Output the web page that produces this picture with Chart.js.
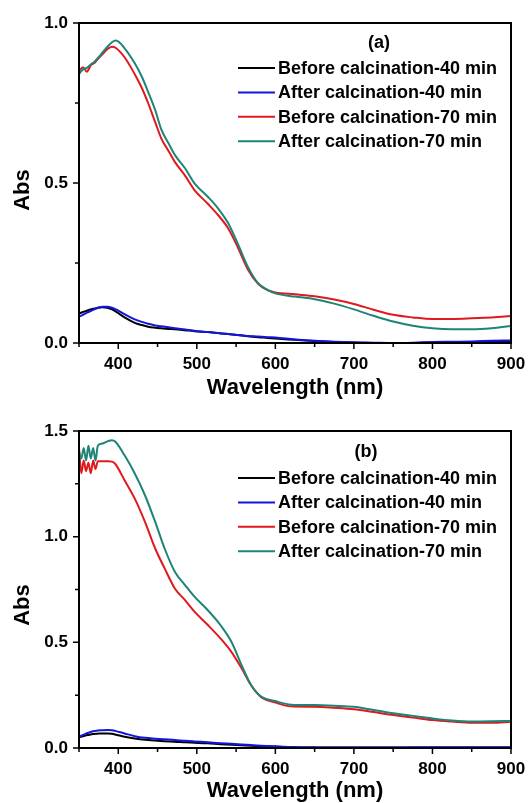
<!DOCTYPE html>
<html>
<head>
<meta charset="utf-8">
<script src="https://cdn.jsdelivr.net/npm/chart.js@4.4.0/dist/chart.umd.min.js"></script>
<style>
  html, body { margin: 0; padding: 0; background: #fff; }
  #wrap { position: relative; width: 531px; height: 803px; overflow: hidden; }
  #chartA { position: absolute; left: 0; top: 0; }
  #chartB { position: absolute; left: 0; top: 400px; }
</style>
</head>
<body>
<div id="wrap">
  <canvas id="chartA" width="531" height="400"></canvas>
  <canvas id="chartB" width="531" height="403"></canvas>
</div>
<script>
// series names / colours shared by both panels
const seriesLabels = ['Before calcination-40 min', 'After calcination-40 min', 'Before calcination-70 min', 'After calcination-70 min'];
const seriesColors = ['#000000', '#1414dc', '#e0191f', '#1d8577'];

// panel (a) - wavelengths (nm) and absorbance
const wlA = [350, 355, 360, 365, 370, 375, 380, 386, 392, 397, 408, 421, 430, 438, 447, 455, 464, 472, 485, 497,
             514, 527, 540, 552, 565, 578, 590, 600, 625, 650, 675, 700, 725, 750, 775, 800, 825, 850, 875, 900];
const before40A = [0.092, 0.097, 0.101, 0.105, 0.108, 0.111, 0.112, 0.110, 0.105, 0.098, 0.080, 0.063, 0.056, 0.051, 0.048, 0.046, 0.044, 0.043, 0.040, 0.037,
                   0.034, 0.031, 0.028, 0.025, 0.021, 0.018, 0.016, 0.014, 0.010, 0.006, 0.003, 0.001, 0.000, 0.000, 0.000, 0.001, 0.002, 0.003, 0.004, 0.005];
const after40A = [0.082, 0.088, 0.095, 0.100, 0.106, 0.110, 0.113, 0.113, 0.110, 0.105, 0.090, 0.074, 0.066, 0.060, 0.055, 0.052, 0.049, 0.046, 0.042, 0.038,
                  0.034, 0.031, 0.028, 0.025, 0.022, 0.020, 0.018, 0.017, 0.011, 0.007, 0.004, 0.002, 0.001, 0.000, 0.001, 0.003, 0.004, 0.005, 0.007, 0.008];
const before70A = [0.850, 0.862, 0.848, 0.868, 0.876, 0.890, 0.903, 0.918, 0.926, 0.922, 0.893, 0.840, 0.797, 0.750, 0.690, 0.638, 0.600, 0.566, 0.523, 0.478,
                   0.435, 0.400, 0.358, 0.300, 0.230, 0.185, 0.165, 0.158, 0.152, 0.146, 0.136, 0.122, 0.104, 0.088, 0.080, 0.075, 0.075, 0.077, 0.080, 0.084];
const after70A = [0.840, 0.855, 0.860, 0.870, 0.880, 0.893, 0.908, 0.925, 0.940, 0.945, 0.921, 0.874, 0.832, 0.785, 0.728, 0.666, 0.624, 0.588, 0.546, 0.499,
                  0.457, 0.421, 0.374, 0.311, 0.238, 0.187, 0.166, 0.155, 0.145, 0.137, 0.123, 0.105, 0.085, 0.067, 0.054, 0.046, 0.043, 0.043, 0.046, 0.053];

// panel (b)
const wlB = [350, 353, 356, 359, 362, 365, 368, 371, 374, 379, 387, 392, 396, 408, 421, 434, 447, 459, 472, 485,
             497, 514, 530, 544, 557, 569, 582, 600, 620, 650, 675, 700, 725, 750, 775, 800, 825, 850, 875, 900];
const before40B = [0.050, 0.054, 0.057, 0.060, 0.062, 0.064, 0.066, 0.067, 0.068, 0.069, 0.069, 0.067, 0.064, 0.053, 0.045, 0.039, 0.035, 0.032, 0.030, 0.027,
                   0.025, 0.022, 0.018, 0.015, 0.013, 0.011, 0.009, 0.006, 0.004, 0.002, 0.002, 0.002, 0.002, 0.002, 0.002, 0.002, 0.002, 0.002, 0.002, 0.002];
const after40B = [0.053, 0.058, 0.063, 0.068, 0.072, 0.076, 0.079, 0.081, 0.083, 0.084, 0.085, 0.084, 0.081, 0.069, 0.056, 0.048, 0.044, 0.041, 0.038, 0.034,
                  0.031, 0.027, 0.023, 0.020, 0.017, 0.014, 0.011, 0.008, 0.005, 0.003, 0.002, 0.002, 0.002, 0.002, 0.003, 0.003, 0.003, 0.003, 0.003, 0.003];
const before70B = [1.420, 1.300, 1.360, 1.310, 1.350, 1.300, 1.360, 1.320, 1.357, 1.357, 1.357, 1.355, 1.345, 1.267, 1.180, 1.070, 0.944, 0.850, 0.755, 0.700,
                   0.645, 0.582, 0.519, 0.455, 0.377, 0.298, 0.240, 0.215, 0.197, 0.195, 0.190, 0.183, 0.170, 0.156, 0.144, 0.132, 0.125, 0.120, 0.120, 0.124];
const after70B = [1.400, 1.370, 1.420, 1.360, 1.430, 1.370, 1.420, 1.360, 1.430, 1.440, 1.452, 1.456, 1.450, 1.385, 1.299, 1.196, 1.070, 0.944, 0.834, 0.771,
                  0.716, 0.652, 0.582, 0.503, 0.392, 0.298, 0.243, 0.222, 0.205, 0.203, 0.200, 0.195, 0.180, 0.164, 0.152, 0.140, 0.130, 0.125, 0.126, 0.128];

const xTickStep = 50;     // labelled every 100 nm
const FONT = "'Liberation Sans', Arial, sans-serif";

function makeSets(wl, series) {
  // draw order: teal on top, then red, blue, black
  const order = [3, 2, 1, 0];
  return series.map((vals, i) => ({
    label: seriesLabels[i],
    data: vals.map((v, j) => ({ x: wl[j], y: v })),
    borderColor: seriesColors[i],
    backgroundColor: seriesColors[i],
    borderWidth: 2,
    pointRadius: 0,
    cubicInterpolationMode: 'monotone',
    order: order[i]
  }));
}

// frame box + outward major/minor tick marks
const framePlugin = {
  id: 'frame',
  afterDraw(chart) {
    const { ctx, chartArea: a, scales } = chart;
    ctx.save();
    ctx.strokeStyle = '#000';
    ctx.lineWidth = 2;
    ctx.strokeRect(a.left, a.top, a.right - a.left, a.bottom - a.top);
    ctx.lineWidth = 1.5;
    ctx.beginPath();
    scales.x.ticks.forEach((t) => {
      const px = scales.x.getPixelForValue(t.value);
      const len = t.label !== '' ? 6 : 4;
      ctx.moveTo(px, a.bottom);
      ctx.lineTo(px, a.bottom + len);
    });
    scales.y.ticks.forEach((t) => {
      const py = scales.y.getPixelForValue(t.value);
      const len = t.label !== '' ? 6 : 4;
      ctx.moveTo(a.left, py);
      ctx.lineTo(a.left - len, py);
    });
    ctx.stroke();
    ctx.restore();
  }
};

// legend box, panel tag and the rotated "Abs" title
const legendPlugin = {
  id: 'panelLegend',
  afterDraw(chart, args, opts) {
    const { ctx } = chart;
    ctx.save();
    ctx.fillStyle = '#000';
    ctx.textBaseline = 'middle';

    ctx.font = 'bold 22px ' + FONT;
    ctx.textAlign = 'center';
    ctx.translate(opts.yTitleX, opts.yTitleY);
    ctx.rotate(-Math.PI / 2);
    ctx.fillText(opts.yTitle, 0, 0);
    ctx.setTransform(1, 0, 0, 1, 0, 0);

    ctx.font = 'bold 18px ' + FONT;
    ctx.fillText(opts.tag, opts.tagX, opts.tagY);
    ctx.textAlign = 'left';
    chart.data.datasets.forEach((ds, i) => {
      const y = opts.y0 + i * opts.gap;
      ctx.strokeStyle = ds.borderColor;
      ctx.lineWidth = 2;
      ctx.beginPath();
      ctx.moveTo(opts.x0, y);
      ctx.lineTo(opts.x0 + 37, y);
      ctx.stroke();
      ctx.fillText(ds.label, opts.x0 + 40, y + 1);
    });
    ctx.restore();
  }
};

function makeChart(id, wl, series, yMax, pad, xHeight, legendOpts) {
  new Chart(document.getElementById(id), {
    type: 'line',
    data: { datasets: makeSets(wl, series) },
    plugins: [framePlugin, legendPlugin],
    options: {
      responsive: false,
      animation: false,
      layout: { padding: pad },
      scales: {
        x: {
          type: 'linear',
          min: 350,
          max: 900,
          afterFit: (s) => { s.height = xHeight; s.paddingLeft = 0; s.paddingRight = 0; },
          border: { display: false },
          grid: { display: false, drawTicks: false },
          ticks: {
            stepSize: xTickStep,
            autoSkip: false,
            maxRotation: 0,
            padding: 11,
            color: '#000',
            font: { family: FONT, size: 17, weight: 'bold' },
            callback: (v) => (v % 100 === 0 ? String(v) : '')
          },
          title: {
            display: true,
            text: 'Wavelength (nm)',
            color: '#000',
            padding: { top: 0, bottom: 0 },
            font: { family: FONT, size: 22, weight: 'bold', lineHeight: 1.1 }
          }
        },
        y: {
          min: 0,
          max: yMax,
          afterFit: (s) => { s.width = 79; s.paddingTop = 0; s.paddingBottom = 0; },
          border: { display: false },
          grid: { display: false, drawTicks: false },
          ticks: {
            stepSize: 0.25,
            autoSkip: false,
            padding: 11,
            color: '#000',
            font: { family: FONT, size: 17, weight: 'bold' },
            callback: (v) => (Math.abs(v * 2 - Math.round(v * 2)) < 1e-6 ? v.toFixed(1) : '')
          }
        }
      },
      plugins: {
        legend: { display: false },
        tooltip: { enabled: false },
        panelLegend: legendOpts
      }
    }
  });
}

makeChart('chartA', wlA, [before40A, after40A, before70A, after70A], 1.0,
  { top: 23, right: 20, left: 0, bottom: 0 }, 57,
  { tag: '(a)', tagX: 379, tagY: 43, x0: 238, y0: 68, gap: 24.4, yTitle: 'Abs', yTitleX: 23, yTitleY: 190 });

makeChart('chartB', wlB, [before40B, after40B, before70B, after70B], 1.5,
  { top: 31, right: 20, left: 0, bottom: 0 }, 55,
  { tag: '(b)', tagX: 366, tagY: 52, x0: 238, y0: 78, gap: 24.4, yTitle: 'Abs', yTitleX: 23, yTitleY: 205 });
</script>
</body>
</html>
